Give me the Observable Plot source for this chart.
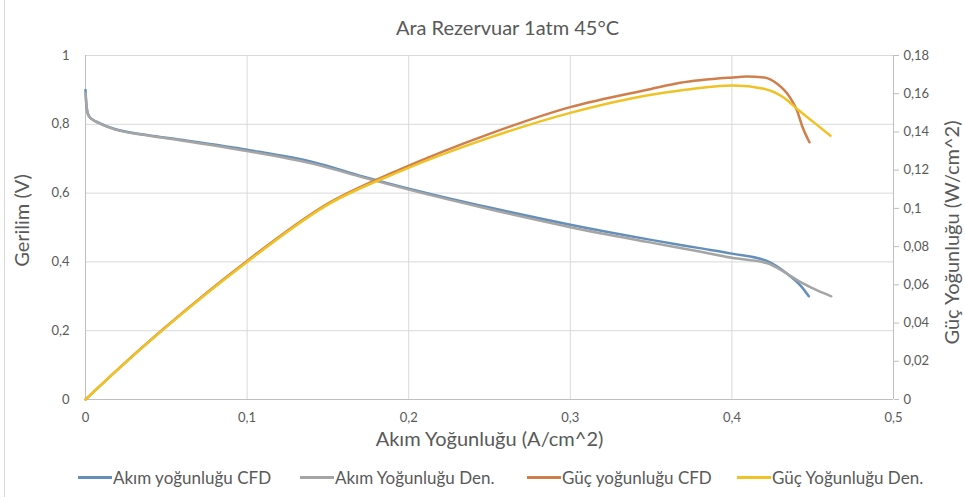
<!DOCTYPE html>
<html>
<head>
<meta charset="utf-8">
<script src="https://cdn.jsdelivr.net/npm/d3@7"></script>
<script src="https://cdn.jsdelivr.net/npm/@observablehq/plot@0.6"></script>
<style>
  html, body { margin: 0; padding: 0; background: #fff; }
  #wrap { width: 965px; height: 497px; position: relative; overflow: hidden; font-family: Lato, "Open Sans", sans-serif; color: #595959; }
  #border { position: absolute; left: 4px; top: 0; width: 1px; height: 497px; background: #d9d9d9; }
  #title { height: 40px; box-sizing: border-box; padding-top: 16px; padding-left: 50px; text-align: center; font-size: 20px; line-height: 22px; }
  #chart { height: 418px; }
  #legend { height: 39px; position: relative; font-size: 17px; }
  .item { position: absolute; top: 0; height: 39px; display: flex; align-items: center; white-space: nowrap; }
  .sw { width: 34px; height: 3px; margin-right: 1px; }
</style>
</head>
<body>
<div id="wrap">
  <div id="border"></div>
  <div id="title">Ara Rezervuar 1atm 45°C</div>
  <div id="chart"></div>
  <div id="legend"></div>
</div>
<script>
// ---- data ----
const seriesNames = ["Akım yoğunluğu CFD", "Akım Yoğunluğu Den.", "Güç yoğunluğu CFD", "Güç Yoğunluğu Den."];
const seriesColors = ["#648fba", "#a5a5a5", "#cf7e4c", "#efc225"];

const xTicks = [0, 0.1, 0.2, 0.3, 0.4, 0.5];
const yTicks = [0, 0.2, 0.4, 0.6, 0.8, 1];
const y2Ticks = [0, 0.02, 0.04, 0.06, 0.08, 0.1, 0.12, 0.14, 0.16, 0.18];
const y2Max = 0.18;

// Voltage, CFD
const vCfdX = [0, 0.0005, 0.001, 0.002, 0.004, 0.008, 0.0175, 0.038, 0.059, 0.1, 0.141, 0.172, 0.2, 0.25, 0.3, 0.35, 0.38, 0.4, 0.422, 0.434, 0.4425, 0.4476];
const vCfdY = [0.90, 0.86, 0.84, 0.825, 0.815, 0.805, 0.787, 0.769, 0.755, 0.726, 0.690, 0.648, 0.613, 0.558, 0.508, 0.464, 0.440, 0.424, 0.402, 0.366, 0.331, 0.300];
// Voltage, experiment
const vDenX = [0, 0.0005, 0.001, 0.002, 0.004, 0.008, 0.0175, 0.038, 0.059, 0.1, 0.141, 0.172, 0.2, 0.25, 0.3, 0.35, 0.38, 0.4, 0.422, 0.434, 0.4425, 0.4528, 0.4615];
const vDenY = [0.89, 0.86, 0.84, 0.825, 0.815, 0.804, 0.786, 0.768, 0.753, 0.722, 0.685, 0.645, 0.610, 0.553, 0.501, 0.456, 0.430, 0.412, 0.396, 0.366, 0.341, 0.317, 0.300];
// Power, CFD
const pCfdX = [0, 0.02, 0.05, 0.1, 0.15, 0.195, 0.25, 0.3, 0.35, 0.368, 0.4, 0.409, 0.42, 0.428, 0.436, 0.4404, 0.4435, 0.448];
const pCfdY = [0, 0.0158, 0.0382, 0.0725, 0.1025, 0.1205, 0.139, 0.153, 0.1625, 0.1657, 0.1685, 0.169, 0.1685, 0.1652, 0.158, 0.151, 0.143, 0.1346];
// Power, experiment
const pDenX = [0, 0.02, 0.05, 0.1, 0.15, 0.195, 0.25, 0.3, 0.35, 0.368, 0.401, 0.4197, 0.432, 0.4404, 0.4507, 0.461];
const pDenY = [0, 0.0157, 0.038, 0.072, 0.102, 0.1195, 0.137, 0.150, 0.1595, 0.1617, 0.1643, 0.1626, 0.158, 0.152, 0.145, 0.138];

const axisTitleX = "Akım Yoğunluğu (A/cm^2)";
const axisTitleY = "Gerilim (V)";
const axisTitleY2 = "Güç Yoğunluğu (W/cm^2)";

// ---- build ----
const rows = (xs, ys, s) => xs.map((x, i) => ({x, y: ys[i], s}));
const series = [
  {data: rows(vCfdX, vCfdY, seriesNames[0]), right: false},
  {data: rows(vDenX, vDenY, seriesNames[1]), right: false},
  {data: rows(pCfdX, pCfdY, seriesNames[2]), right: true},
  {data: rows(pDenX, pDenY, seriesNames[3]), right: true}
];
const fmt = v => String(+(+v).toFixed(2)).replace(".", ",");
const gridColor = "#d9d9d9";
const axisColor = "#bfbfbf";

const chart = Plot.plot({
  width: 965,
  height: 418,
  marginLeft: 85,
  marginRight: 72,
  marginTop: 15,
  marginBottom: 59,
  style: {fontFamily: "Lato, 'Open Sans', sans-serif", fontSize: "13px", color: "#595959", background: "transparent", overflow: "visible"},
  x: {domain: [0, 0.5]},
  y: {domain: [0, 1]},
  color: {domain: seriesNames, range: seriesColors},
  marks: [
    Plot.gridX(xTicks.slice(1, -1), {stroke: gridColor, strokeOpacity: 1}),
    Plot.gridY(yTicks.slice(1), {stroke: gridColor, strokeOpacity: 1}),
    Plot.ruleX([0], {stroke: axisColor}),
    Plot.ruleX([0.5], {stroke: axisColor}),
    Plot.ruleY([0], {stroke: axisColor}),
    Plot.axisX({ticks: xTicks, tickSize: 0, tickPadding: 13, tickFormat: fmt, label: null}),
    Plot.axisY({ticks: yTicks, tickSize: 0, tickPadding: 16, tickFormat: fmt, label: null}),
    Plot.axisY(y2Ticks.map(v => v / y2Max), {anchor: "right", tickSize: 5, tickPadding: 5, stroke: axisColor, tickFormat: d => fmt(d * y2Max), label: null}),
    ...series.map(({data, right}) => Plot.line(data, {
      x: "x",
      y: right ? (d => d.y / y2Max) : "y",
      stroke: "s",
      strokeWidth: 2.5,
      curve: "monotone-x"
    })),
    Plot.text([axisTitleY], {text: d => d, frameAnchor: "left", textAnchor: "middle", rotate: -90, dx: -63, dy: -7, fontSize: 20, fill: "#595959"}),
    Plot.text([axisTitleY2], {text: d => d, frameAnchor: "right", textAnchor: "middle", rotate: -90, dx: 59, dy: 5, fontSize: 20, fill: "#595959"}),
    Plot.text([axisTitleX], {text: d => d, frameAnchor: "bottom", textAnchor: "middle", dy: 46, fontSize: 20, fill: "#595959"})
  ]
});
document.getElementById("chart").appendChild(chart);

const legendLeft = [78, 300, 527, 737];
const legend = document.getElementById("legend");
seriesNames.forEach((name, i) => {
  const item = document.createElement("div");
  item.className = "item";
  item.style.left = legendLeft[i] + "px";
  const sw = document.createElement("span");
  sw.className = "sw";
  sw.style.background = seriesColors[i];
  const t = document.createElement("span");
  t.textContent = name;
  item.appendChild(sw);
  item.appendChild(t);
  legend.appendChild(item);
});
</script>
</body>
</html>
